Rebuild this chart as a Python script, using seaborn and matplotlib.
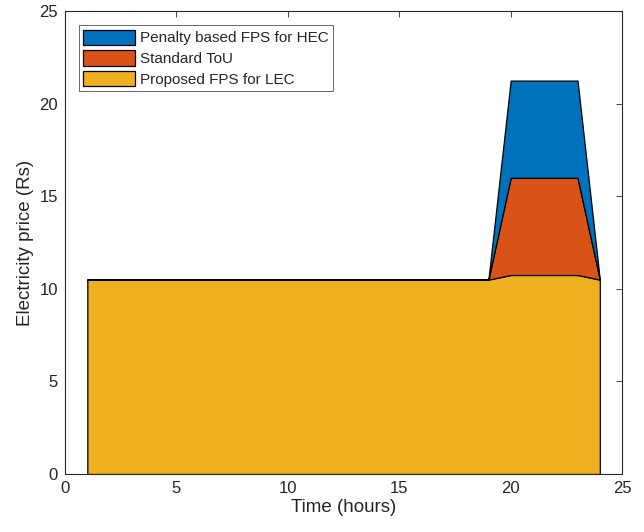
import numpy as np
import pandas as pd
import matplotlib
matplotlib.use("Agg")
import matplotlib.pyplot as plt
import seaborn as sns

hours = list(range(1, 25))
# base tariff for low-energy consumers (Rs)
proposed_lec = [10.5] * 19 + [10.75, 10.75, 10.75, 10.75, 10.5]
# additional amount of the standard ToU over the proposed scheme
standard_tou_extra = [0.0] * 19 + [5.25, 5.25, 5.25, 5.25, 0.0]
# additional penalty for high-energy consumers on top of ToU
penalty_hec_extra = [0.0] * 19 + [5.25, 5.25, 5.25, 5.25, 0.0]

labels = ["Proposed FPS for LEC", "Standard ToU", "Penalty based FPS for HEC"]
colors = ["#EDB120", "#D95319", "#0072BD"]

df = pd.DataFrame({"hour": hours, labels[0]: proposed_lec,
                   labels[1]: standard_tou_extra, labels[2]: penalty_hec_extra})

sns.set_style("white")
plt.rcParams["font.family"] = ["Liberation Sans", "DejaVu Sans"]

fig = plt.figure(figsize=(6.44, 5.32), dpi=100)
ax = fig.add_axes([0.101, 0.109, 0.865, 0.870])

polys = ax.stackplot(df["hour"], df[labels[0]], df[labels[1]], df[labels[2]],
                     colors=colors, labels=labels, edgecolor="black", linewidth=0.9)

ax.set_xlim(0, 25)
ax.set_ylim(0, 25)
ax.set_xticks(range(0, 26, 5))
ax.set_yticks(range(0, 26, 5))
ax.tick_params(direction="in", length=4, top=True, right=True, labelsize=12,
               color="#262626", labelcolor="#262626", width=0.6, pad=5)
for s in ax.spines.values():
    s.set_color("#262626")
    s.set_linewidth(0.8)
ax.set_xlabel("Time (hours)", fontsize=13.5, color="#262626", labelpad=2)
ax.set_ylabel("Electricity price (Rs)", fontsize=13.5, color="#262626", labelpad=4)

handles, labs = ax.get_legend_handles_labels()
leg = ax.legend(handles[::-1], labs[::-1], loc="upper left", fontsize=11,
                frameon=True, fancybox=False, edgecolor="#262626",
                handlelength=3.4, handleheight=1.2, handletextpad=0.3,
                borderpad=0.3, labelspacing=0.3, borderaxespad=0.9)
leg.get_frame().set_linewidth(0.6)

fig.savefig("out.png", dpi=100)
